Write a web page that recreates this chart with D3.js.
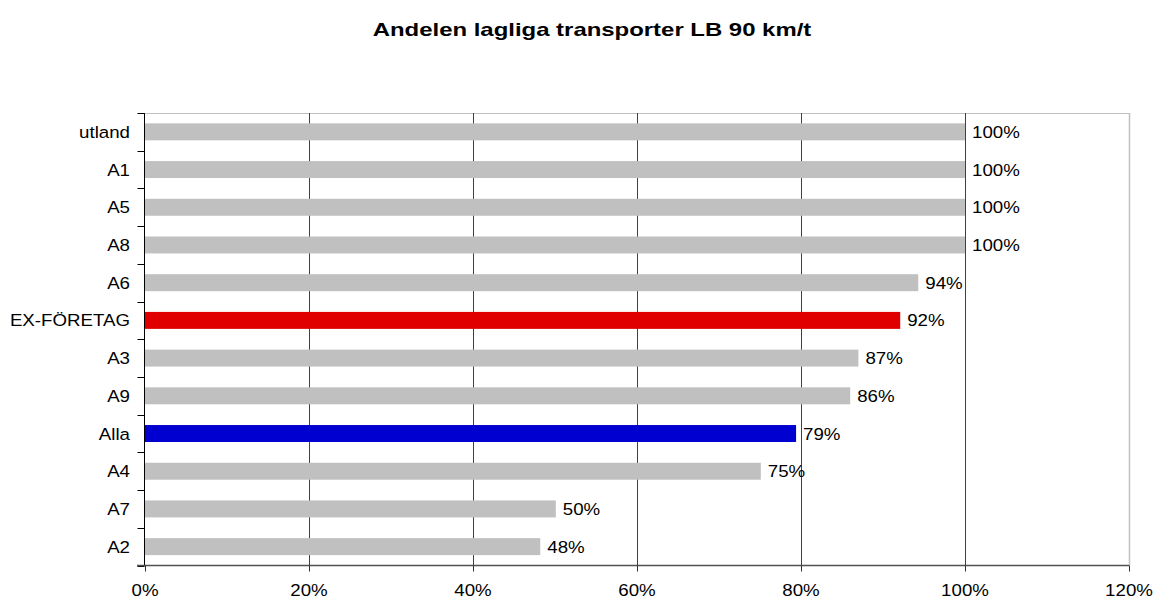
<!DOCTYPE html>
<html>
<head>
<meta charset="utf-8">
<script src="https://cdn.jsdelivr.net/npm/d3@7"></script>
<style>
  html, body { margin: 0; padding: 0; background: #fff; }
  text { font-family: "Liberation Sans", Arial, sans-serif; fill: #000; }
</style>
</head>
<body>
<svg id="chart" width="1157" height="599"></svg>
<script>
const title = "Andelen lagliga transporter LB 90 km/t";
const categories = ["utland", "A1", "A5", "A8", "A6", "EX-FÖRETAG", "A3", "A9", "Alla", "A4", "A7", "A2"];
const values = [1.00, 1.00, 1.00, 1.00, 0.943, 0.921, 0.87, 0.86, 0.794, 0.751, 0.501, 0.482];
const valueLabels = ["100%", "100%", "100%", "100%", "94%", "92%", "87%", "86%", "79%", "75%", "50%", "48%"];
const barColors = ["#c0c0c0", "#c0c0c0", "#c0c0c0", "#c0c0c0", "#c0c0c0", "#e00000", "#c0c0c0", "#c0c0c0", "#0000d0", "#c0c0c0", "#c0c0c0", "#c0c0c0"];
const xTicks = [0, 0.2, 0.4, 0.6, 0.8, 1.0, 1.2];
const xTickLabels = ["0%", "20%", "40%", "60%", "80%", "100%", "120%"];

const svg = d3.select("#chart");
const pLeft = 145, pRight = 1129, pTop = 113, pBottom = 565.5;

const x = d3.scaleLinear().domain([0, 1.2]).range([pLeft, pRight]);
const y = d3.scaleBand().domain(categories).range([pTop, pBottom]).paddingInner(0.55).paddingOuter(0.275);

const SX = 1.1; // horizontal text stretch
const FS = "17px";

function stretchedText(g, tx, ty, sx) {
  return g.append("text").attr("transform", `translate(${tx},${ty}) scale(${sx},1)`);
}

// Title
stretchedText(svg, 592, 35.5, 1.33)
  .attr("text-anchor", "middle")
  .attr("font-size", "18px")
  .attr("font-weight", "bold")
  .text(title);

// Plot border (top, right) light gray
svg.append("line").attr("x1", pLeft).attr("x2", pRight).attr("y1", pTop + 0.5).attr("y2", pTop + 0.5)
  .attr("stroke", "#c0c0c0").attr("stroke-width", 1);
svg.append("line").attr("x1", pRight + 0.5).attr("x2", pRight + 0.5).attr("y1", pTop).attr("y2", pBottom)
  .attr("stroke", "#c0c0c0").attr("stroke-width", 1.5);

// Vertical gridlines
svg.append("g").selectAll("line")
  .data(xTicks.filter(d => d > 0 && d < 1.2))
  .join("line")
  .attr("x1", d => Math.round(x(d)) + 0.5).attr("x2", d => Math.round(x(d)) + 0.5)
  .attr("y1", pTop).attr("y2", pBottom)
  .attr("stroke", "#404040").attr("stroke-width", 1);

// Bars
svg.append("g").selectAll("rect")
  .data(categories)
  .join("rect")
  .attr("x", x(0))
  .attr("y", d => y(d))
  .attr("width", (d, i) => x(values[i]) - x(0))
  .attr("height", y.bandwidth())
  .attr("fill", (d, i) => barColors[i]);

// Value labels
const vl = svg.append("g");
categories.forEach((c, i) => {
  stretchedText(vl, x(values[i]) + 7, y(c) + y.bandwidth() / 2 + 6, SX)
    .attr("font-size", FS)
    .text(valueLabels[i]);
});

// Y axis
const yAxis = d3.axisLeft(y).tickSize(0).tickFormat("");
const yg = svg.append("g").attr("transform", `translate(${pLeft - 0.5},0)`).call(yAxis);
yg.select(".domain").attr("stroke", "#000").attr("d", `M0,${pTop}V${pBottom}`);
const bounds = categories.map(c => y(c) - y.step() * y.paddingInner() / 2).concat([pBottom]);
yg.selectAll(".bt").data(bounds).join("line").attr("class", "bt")
  .attr("x1", -7).attr("x2", 0)
  .attr("y1", d => Math.round(d) + 0.5).attr("y2", d => Math.round(d) + 0.5)
  .attr("stroke", "#000");
const cl = svg.append("g");
categories.forEach(c => {
  stretchedText(cl, 130, y(c) + y.bandwidth() / 2 + 6, SX)
    .attr("text-anchor", "end")
    .attr("font-size", FS)
    .text(c);
});

// X axis
const xAxis = d3.axisBottom(x).tickValues(xTicks).tickSize(6).tickFormat("");
const xg = svg.append("g").attr("transform", `translate(0,${pBottom})`).call(xAxis);
xg.select(".domain").attr("stroke", "#505050").attr("stroke-width", 1.5).attr("d", `M${pLeft - 8},0H${pRight}`);
xg.selectAll(".tick line").attr("stroke", "#303030");
const xl = svg.append("g");
xTicks.forEach((t, i) => {
  stretchedText(xl, x(t), 596, SX)
    .attr("text-anchor", "middle")
    .attr("font-size", FS)
    .text(xTickLabels[i]);
});
</script>
</body>
</html>
